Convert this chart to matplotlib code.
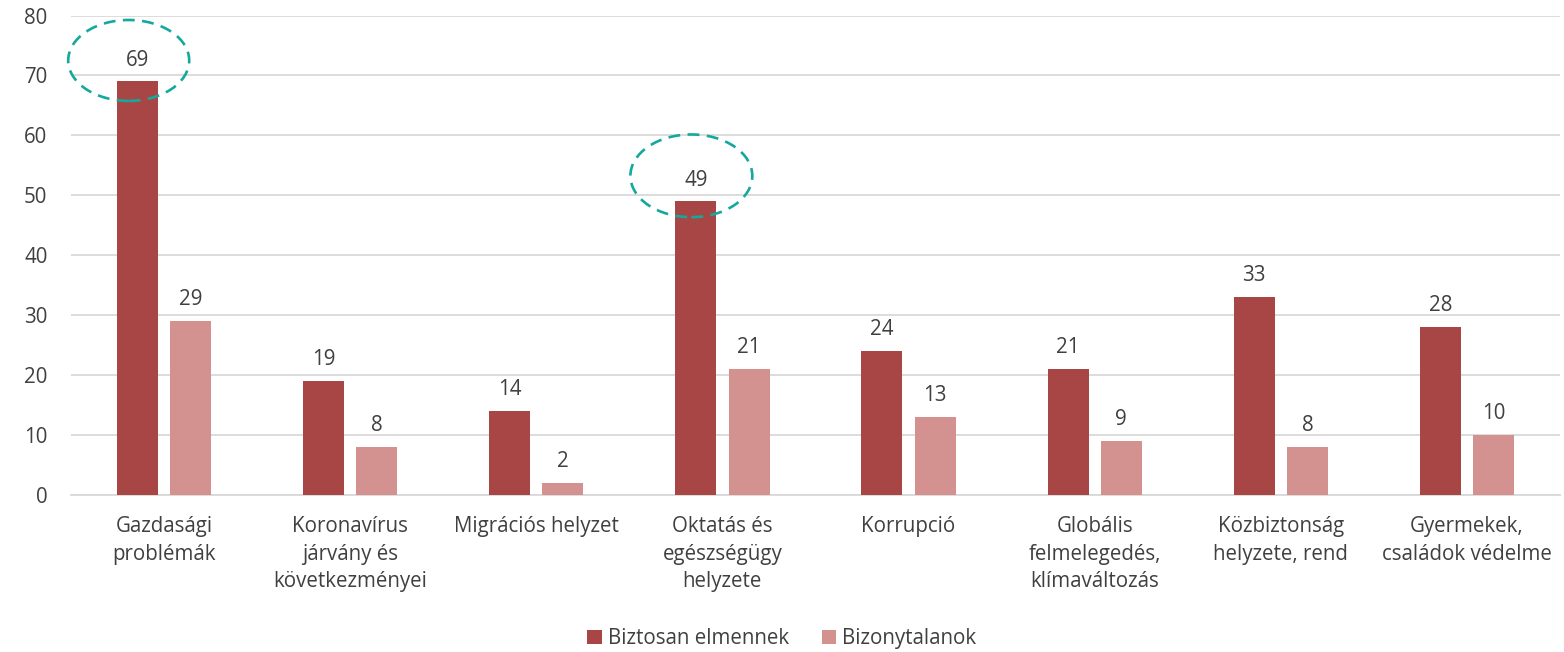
import numpy as np
import matplotlib.pyplot as plt
from matplotlib.patches import Ellipse

# Categories and values
categories = ['Gazdasági\nproblémák', 'Koronavírus\njárvány és\nkövetkezményei',
              'Migrációs helyzet', 'Oktatás és\negészségügy\nhelyzete', 'Korrupció',
              'Globális\nfelmelegedés,\nklímaváltozás', 'Közbiztonság\nhelyzete, rend',
              'Gyermekek,\ncsaládok védelme']
biztosan = [69, 19, 14, 49, 24, 21, 33, 28]
bizonytalan = [29, 8, 2, 21, 13, 9, 8, 10]
series_names = ['Biztosan elmennek', 'Bizonytalanok']

dark = '#A84646'
light = '#D39190'
teal = '#14A89E'
txt = '#404040'
fs = 14.8

plt.rcParams['font.family'] = ['Open Sans', 'DejaVu Sans']

fig = plt.figure(figsize=(15.64, 6.52), dpi=100)
ax = fig.add_axes([71 / 1564, 157 / 652, 1489 / 1564, 479.5 / 652])

x = np.arange(len(categories))
w = 0.22
off = 0.143
b1 = ax.bar(x - off, biztosan, w, color=dark, label=series_names[0], zorder=3)
b2 = ax.bar(x + off, bizonytalan, w, color=light, label=series_names[1], zorder=3)

for bars in (b1, b2):
    for r in bars:
        ax.text(r.get_x() + r.get_width() / 2, r.get_height() + 1.8, f'{int(r.get_height())}',
                ha='center', va='bottom', fontsize=fs, color=txt)

# highlight ellipses around the two largest values
for cx, cy, ew, eh in [(-0.19, 72.5, 0.65, 13.5), (2.833, 53.25, 0.655, 13.8)]:
    ax.add_patch(Ellipse((cx, cy), ew, eh, fill=False, edgecolor=teal, clip_on=False,
                         linestyle=(0, (4.5, 2.8)), linewidth=1.9, zorder=4))

ax.set_xlim(-0.5, len(categories) - 0.5)
ax.set_ylim(0, 80)
ax.set_yticks(range(0, 81, 10))
ax.yaxis.grid(True, color='#D9D9D9', linewidth=1.3, zorder=0)
ax.set_xticks(x)
ax.set_xticklabels(categories, fontsize=fs, color=txt, linespacing=1.42)
ax.tick_params(axis='y', labelsize=fs, labelcolor=txt, length=0, pad=17)
ax.tick_params(axis='x', length=0, pad=15)
for s in ['top', 'right', 'left']:
    ax.spines[s].set_visible(False)
ax.spines['bottom'].set_color('#D9D9D9')
ax.spines['bottom'].set_linewidth(1.3)

fig.legend(loc='center', bbox_to_anchor=(0.5, 0.02), ncol=2, frameon=False,
           fontsize=fs, labelcolor=txt, handlelength=0.7, handleheight=0.7,
           handletextpad=0.3, columnspacing=1.6)

fig.savefig('out.png', dpi=100)
